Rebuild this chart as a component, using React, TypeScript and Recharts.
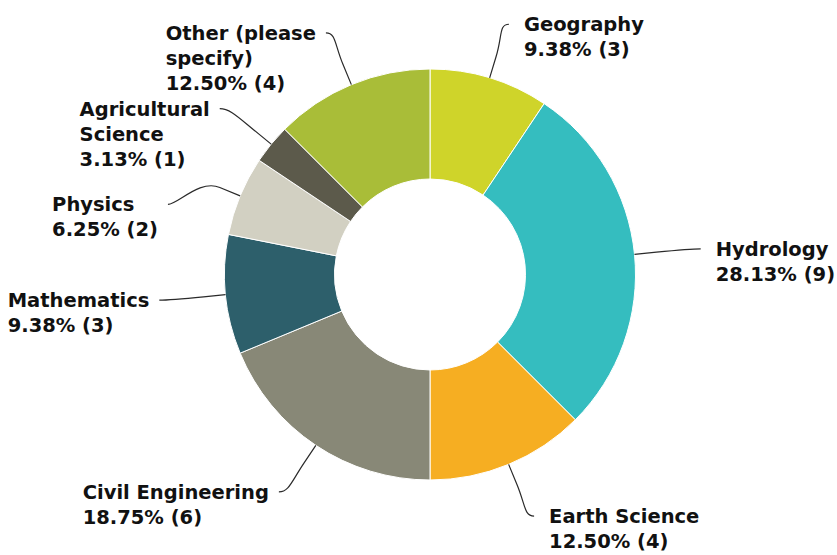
import React from "react";
import { PieChart, Pie, Cell } from "recharts";

const categories = [
  "Geography",
  "Hydrology",
  "Earth Science",
  "Civil Engineering",
  "Mathematics",
  "Physics",
  "Agricultural Science",
  "Other (please specify)",
];
const responses = [3, 9, 4, 6, 3, 2, 1, 4];
const colors = [
  "#cfd42a",
  "#35bdbf",
  "#f6ae22",
  "#888877",
  "#2d5f6b",
  "#d2d0c2",
  "#5c5a4b",
  "#a9bd38",
];

// small vertical nudges where labels would crowd each other
const labelNudgeY: Record<string, number> = { Physics: 30 };

const data = categories.map((name, i) => ({ name, value: responses[i] }));
const total = responses.reduce((a, b) => a + b, 0);

const RADIAN = Math.PI / 180;
const FONT_SIZE = 19.5;
const LINE_H = 25;
const FONT = `bold ${FONT_SIZE}px "DejaVu Sans"`;
const MAX_W = 205;

let ctx: CanvasRenderingContext2D | null = null;
function measure(s: string) {
  if (!ctx) {
    ctx = document.createElement("canvas").getContext("2d");
  }
  if (!ctx) return s.length * FONT_SIZE * 0.6;
  ctx.font = FONT;
  return ctx.measureText(s).width;
}

function wrap(text: string) {
  const words = text.split(" ");
  const lines: string[] = [];
  let cur = "";
  for (const w of words) {
    const next = cur ? cur + " " + w : w;
    if (cur && measure(next) > MAX_W) {
      lines.push(cur);
      cur = w;
    } else {
      cur = next;
    }
  }
  if (cur) lines.push(cur);
  return lines;
}

function renderLabel(props: any) {
  const { cx, cy, midAngle, outerRadius, name, value } = props;
  const cos = Math.cos(-midAngle * RADIAN);
  const sin = Math.sin(-midAngle * RADIAN);
  const right = cos >= 0;
  const side = right ? 1 : -1;

  const edgeX = cx + outerRadius * cos;
  const edgeY = cy + outerRadius * sin;
  const bendR = outerRadius + 22;
  const bx = cx + bendR * cos;
  const by = cy + bendR * sin;

  // labels sit on a slightly flattened ring around the donut
  const a = outerRadius + 66.5;
  const b = outerRadius + 56;
  const ey = cy + b * sin + (labelNudgeY[name] || 0);
  const t = Math.min(Math.abs((ey - cy) / b), 1);
  const ex = cx + side * a * Math.sqrt(1 - t * t);

  const pct = ((value / total) * 100).toFixed(2);
  const lines = [...wrap(name), `${pct}% (${value})`];
  const blockW = Math.max(...lines.map(measure));
  const textX = right ? ex + 15 : ex - 10 - blockW;

  const path = `M${ex},${ey} C${ex - side * 10},${ey} ${2 * bx - edgeX},${2 * by - edgeY} ${bx},${by} L${edgeX},${edgeY}`;

  return (
    <g key={name}>
      <path d={path} fill="none" stroke="#2a2a2a" strokeWidth={1.2} />
      <text
        x={textX}
        y={ey + 7}
        fill="#111"
        fontFamily='"DejaVu Sans"'
        fontWeight="bold"
        fontSize={FONT_SIZE}
        textAnchor="start"
      >
        {lines.map((l, i) => (
          <tspan key={i} x={textX} dy={i === 0 ? 0 : LINE_H}>
            {l}
          </tspan>
        ))}
      </text>
    </g>
  );
}

export default function App() {
  return (
    <div style={{ position: "absolute", left: 0, top: 0, background: "#fff" }}>
      <PieChart
        width={837}
        height={555}
        margin={{ top: 0, right: 0, bottom: 0, left: 0 }}
      >
        <Pie
          data={data}
          dataKey="value"
          nameKey="name"
          cx={430}
          cy={274.5}
          innerRadius={95.5}
          outerRadius={205.5}
          startAngle={90}
          endAngle={-270}
          stroke="#fff"
          strokeWidth={1}
          label={renderLabel}
          labelLine={false}
          isAnimationActive={false}
        >
          {data.map((d, i) => (
            <Cell key={d.name} fill={colors[i]} />
          ))}
        </Pie>
      </PieChart>
    </div>
  );
}
